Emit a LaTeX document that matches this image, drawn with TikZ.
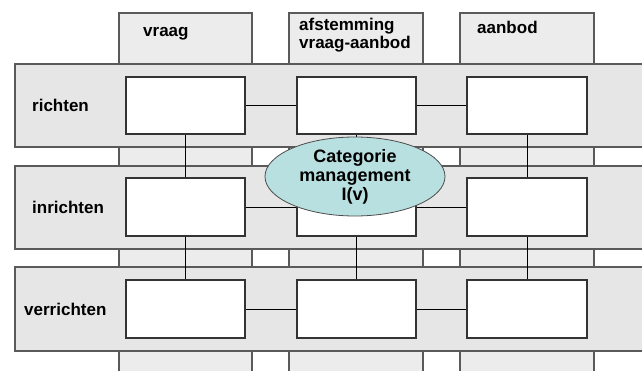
\documentclass[tikz,border=0pt]{standalone}
\usepackage{fontspec}
\setmainfont{Liberation Sans}
\usepackage{tikz}
\usetikzlibrary{shapes.geometric}
\definecolor{bandgray}{RGB}{230,230,230}
\definecolor{colgray}{RGB}{236,236,236}
\definecolor{edgegray}{RGB}{90,90,90}
\definecolor{catblue}{RGB}{185,224,224}

\begin{document}
\begin{tikzpicture}
		[x=1pt,y=-1pt,
		kolom/.style= {rectangle,draw=edgegray,line width=1.2pt,fill=colgray,minimum width=134pt,minimum height=367pt,inner sep=0pt},
		band/.style= {rectangle,draw=edgegray,line width=1.2pt,fill=bandgray,minimum width=645pt,minimum height=83pt,inner sep=0pt},
		blok/.style= {rectangle,draw=black!80,line width=1.1pt,fill=white,minimum width=119pt,minimum height=58pt,inner sep=0pt},
		kop/.style= {font=\fontsize{17}{18}\selectfont\bfseries,align=left,inner sep=0pt},
		cat/.style= {ellipse,draw=black!70,line width=0.8pt,fill=catblue,minimum width=180pt,minimum height=79pt,inner sep=0pt,align=center,font=\fontsize{18}{19}\selectfont\bfseries}]

		\useasboundingbox (0,0) rectangle (642,371);

		% kolommen
		\node[kolom,minimum width=133pt] (vraag) at (185.5,196.5) {};
		\node[kolom] (afst) at (356,196.5) {};
		\node[kolom] (aanb) at (527,196.5) {};

		\node[kop,anchor=west] (tvraag) at (143,34) {vraag};
		\node[kop,anchor=west] (tafst) at (299,35) {afstemming\\vraag-aanbod};
		\node[kop,anchor=west] (taanb) at (477,27) {aanbod};

		% lagen
		\node[band] (richten) at (337.5,105.5) {};
		\node[band] (inrichten) at (337.5,207.5) {};
		\node[band,minimum height=84pt] (verrichten) at (337.5,309) {};

		\node[kop,anchor=west] (trichten) at (32,105) {richten};
		\node[kop,anchor=west] (tinrichten) at (32,207) {inrichten};
		\node[kop,anchor=west] (tverrichten) at (24,309) {verrichten};

		% blokken
		\node[blok,minimum height=57pt] (v1) at (185.5,105.5) {};

		\node[blok,minimum height=57pt] (f1) at (356.5,105.5) {}
			edge [-]	(v1)
		;

		\node[blok,minimum height=57pt,minimum width=120pt] (b1) at (527,105.5) {}
			edge [-]	(f1)
		;

		\node[blok] (v2) at (185.5,207) {}
			edge [-]	(v1)
		;

		\node[blok] (f2) at (356.5,207) {}
			edge [-]	(v2)
			edge [-]	(f1)
		;

		\node[blok,minimum width=120pt] (b2) at (527,207) {}
			edge [-]	(f2)
			edge [-]	(b1)
		;

		\node[blok] (v3) at (185.5,309) {}
			edge [-]	(v2)
		;

		\node[blok] (f3) at (356.5,309) {}
			edge [-]	(v3)
			edge [-]	(f2)
		;

		\node[blok,minimum width=120pt] (b3) at (527,309) {}
			edge [-]	(f3)
			edge [-]	(b2)
		;

		\node[cat] (catman) at (355,176.5) {Categorie\\management\\I(v)};

	\end{tikzpicture}
\end{document}
